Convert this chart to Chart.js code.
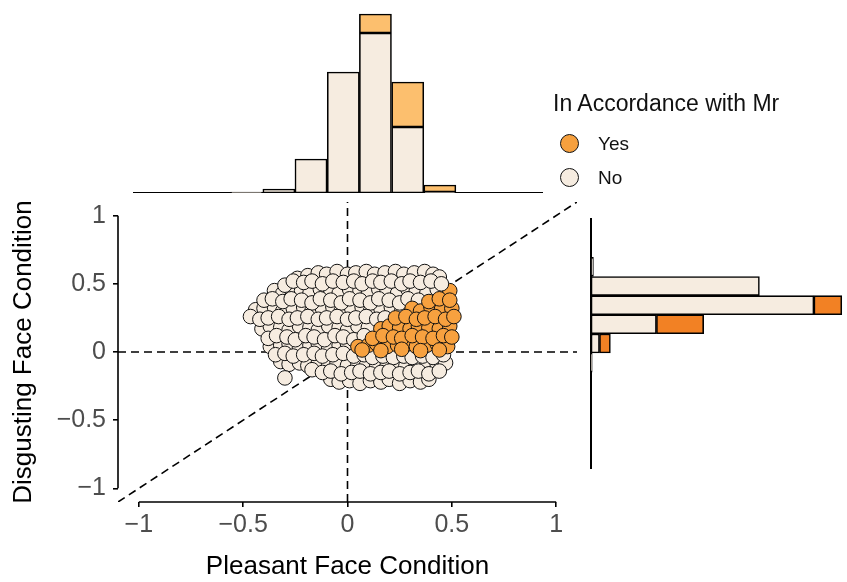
<!DOCTYPE html>
<html><head><meta charset="utf-8">
<script src="https://cdn.jsdelivr.net/npm/chart.js@4"></script>
<style>
html,body{margin:0;padding:0;background:#fff;}
#wrap{position:relative;width:847px;height:582px;overflow:hidden;background:#fff;font-family:"Liberation Sans",Arial,sans-serif;}
#wrap canvas{position:absolute;}
.lg{position:absolute;line-height:1;white-space:nowrap;color:#111;}
.dot{position:absolute;width:19px;height:19px;box-sizing:border-box;border:1.4px solid #111;border-radius:50%;}
</style></head>
<body><div id="wrap">
<canvas id="top" width="600" height="193" style="left:0px;top:0px"></canvas>
<canvas id="right" width="262" height="280" style="left:585px;top:200px"></canvas>
<canvas id="main" width="590" height="412" style="left:0px;top:170px"></canvas>
</div>
<script>
// ---------- data ----------
const xTitle = 'Pleasant Face Condition';
const yTitle = 'Disgusting Face Condition';
const legendTitle = 'In Accordance with Mr';
const seriesNames = ['Yes', 'No'];

const xTickValues = [-1, -0.5, 0, 0.5, 1];
const xTickLabels = ['\u22121', '\u22120.5', '0', '0.5', '1'];
const yTickValues = [-1, -0.5, 0, 0.5, 1];
const yTickLabels = ['\u22121', '\u22120.5', '0', '0.5', '1'];
const axisMin = -1.1, axisMax = 1.1;

// reference lines: x = 0, y = 0, y = x
const refLines = [
  [[0, -1.1], [0, 1.1]],
  [[-1.1, 0], [1.1, 0]],
  [[-1.1, -1.1], [1.1, 1.1]]
];

// "No" points (drawn beneath the "Yes" points)
const noPoints = [
  [-0.24,0.54],[-0.19,0.56],[-0.14,0.58],[-0.10,0.57],[-0.05,0.59],[0.00,0.57],[0.04,0.58],[0.09,0.59],[0.13,0.57],[0.18,0.58],[0.23,0.59],[0.27,0.57],[0.32,0.58],[0.37,0.59],[0.41,0.57],[0.44,0.55],
  [-0.35,0.45],[-0.31,0.43],[-0.27,0.46],[-0.22,0.45],[-0.18,0.43],[-0.13,0.46],[-0.08,0.45],[-0.04,0.43],[0.01,0.46],[0.06,0.45],[0.10,0.43],[0.15,0.46],[0.19,0.45],[0.24,0.43],[0.29,0.46],[0.33,0.45],[0.38,0.43],[0.43,0.46],
  [-0.44,0.31],[-0.40,0.32],[-0.35,0.33],[-0.31,0.30],[-0.26,0.32],[-0.21,0.33],[-0.17,0.30],[-0.12,0.32],[-0.07,0.33],[-0.03,0.30],[0.02,0.32],[0.07,0.33],[0.11,0.30],[0.16,0.32],[0.21,0.33],[0.26,0.30],
  [-0.41,0.17],[-0.37,0.19],[-0.32,0.18],[-0.28,0.16],[-0.23,0.19],[-0.18,0.18],[-0.14,0.16],[-0.09,0.19],[-0.04,0.18],[0.00,0.16],[0.05,0.19],[0.10,0.18],
  [-0.37,0.04],[-0.32,0.05],[-0.28,0.06],[-0.23,0.03],[-0.18,0.05],[-0.14,0.06],[-0.09,0.03],[-0.04,0.05],[0.00,0.06],
  [-0.32,-0.07],[-0.28,-0.09],[-0.23,-0.08],[-0.19,-0.10],[-0.14,-0.08],[-0.09,-0.09],[-0.05,-0.08],[0.00,-0.10],[0.05,-0.09],[0.09,-0.10],[0.14,-0.09],[0.19,-0.10],[0.23,-0.09],[0.28,-0.10],[0.33,-0.09],[0.38,-0.10],[0.43,-0.09],[0.47,-0.08],
  [-0.08,-0.20],[-0.04,-0.22],[0.01,-0.21],[0.06,-0.23],[0.11,-0.21],[0.16,-0.22],[0.20,-0.20],[0.25,-0.23],[0.30,-0.21],[0.35,-0.22],[0.39,-0.20],
  [-0.30,0.49],[-0.26,0.52],[-0.21,0.51],[-0.17,0.52],[-0.12,0.50],[-0.07,0.52],[-0.02,0.51],[0.03,0.52],[0.07,0.50],[0.12,0.52],[0.16,0.51],[0.21,0.52],[0.26,0.50],[0.30,0.52],[0.35,0.51],
  [-0.40,0.38],[-0.36,0.39],[-0.31,0.37],[-0.27,0.39],[-0.22,0.38],[-0.17,0.36],[-0.13,0.39],[-0.08,0.38],[-0.03,0.36],[0.01,0.39],[0.06,0.38],[0.11,0.36],[0.15,0.39],[0.20,0.38],[0.25,0.36],[0.29,0.39],[0.34,0.38],
  [-0.465,0.26],[-0.42,0.24],[-0.38,0.25],[-0.33,0.26],[-0.28,0.24],[-0.24,0.25],[-0.19,0.26],[-0.14,0.24],[-0.10,0.25],[-0.05,0.26],[0.00,0.24],[0.04,0.25],[0.09,0.26],[0.14,0.24],[0.18,0.25],
  [-0.38,0.10],[-0.34,0.12],[-0.29,0.11],[-0.25,0.09],[-0.20,0.12],[-0.16,0.11],[-0.11,0.09],[-0.06,0.12],[-0.02,0.11],[0.03,0.09],[0.08,0.12],
  [-0.345,-0.02],[-0.30,-0.01],[-0.26,-0.03],[-0.21,-0.02],[-0.16,-0.01],[-0.12,-0.03],[-0.07,-0.02],[-0.02,-0.01],[0.03,-0.03],[0.08,-0.02],[0.12,-0.04],[0.17,-0.03],[0.22,-0.04],[0.27,-0.03],[0.31,-0.04],[0.36,-0.03],[0.41,-0.04],[0.46,-0.02],
  [-0.30,-0.19],[-0.17,-0.13],[-0.12,-0.15],[-0.08,-0.14],[-0.03,-0.16],[0.02,-0.15],[0.06,-0.14],[0.11,-0.16],[0.16,-0.15],[0.20,-0.14],[0.25,-0.16],[0.30,-0.15],[0.34,-0.14],[0.39,-0.16],[0.44,-0.14]
];
// "No" points drawn above the "Yes" points
const noFrontPoints = [[0.40,0.52],[0.45,0.50]];
// "Yes" points
const yesPoints = [
  [0.49,0.45],
  [0.31,0.32],[0.35,0.30],[0.40,0.33],[0.45,0.31],[0.50,0.32],
  [0.16,0.17],[0.20,0.19],[0.25,0.18],[0.30,0.17],[0.34,0.19],[0.39,0.18],[0.44,0.17],[0.49,0.19],
  [0.05,0.04],[0.10,0.05],[0.14,0.06],[0.19,0.04],[0.24,0.05],[0.29,0.06],[0.33,0.04],[0.38,0.05],[0.43,0.06],[0.48,0.04],
  [0.39,0.37],[0.44,0.39],[0.49,0.38],
  [0.23,0.25],[0.28,0.26],[0.33,0.24],[0.37,0.25],[0.42,0.26],[0.47,0.24],[0.51,0.26],
  [0.12,0.10],[0.17,0.12],[0.22,0.11],[0.26,0.10],[0.31,0.12],[0.36,0.11],[0.41,0.10],[0.46,0.12],[0.50,0.11],
  [0.07,0.015],[0.16,0.01],[0.26,0.02],[0.35,0.01],[0.44,0.015]
];

// top marginal histogram (Pleasant)
const topBinCenters = [-0.945,-0.790,-0.636,-0.482,-0.327,-0.173,-0.018,0.136,0.291,0.445,0.599,0.754,0.908];
const topNo  = [0,0,0,1,4,34,121,160,66,1,0,0,0];
const topYes = [0,0,0,0,0,0,0,19,45,7,0,0,0];
const topXMin = -1.022, topXMax = 0.935, topCountMax = 180;

// right marginal histogram (Disgusting)
const rightBinCenters = [-0.778,-0.637,-0.496,-0.355,-0.214,-0.073,0.068,0.209,0.349,0.490,0.631,0.772,0.913];
const rightNo  = [0,0,0,0,0,1,7,54,184,139,2,0,0];
const rightYes = [0,0,0,0,0,0,9,39,23,0,0,0,0];
const rightYMin = -0.848, rightYMax = 0.983, rightCountMax = 208;

// ---------- styles ----------
const noFill = '#F6ECE0';
const yesFill = '#F7A13F';
const topYesFill = '#FCBF6E';
const rightYesFill = '#F28124';
const legendYesFill = '#F6A03E';

Chart.defaults.font.family = '"Liberation Sans", Arial, sans-serif';
Chart.defaults.animation = false;

const toXY = arr => arr.map(p => ({x: p[0], y: p[1]}));

const cappedAxes = {
  id: 'cappedAxes',
  afterDraw(chart) {
    const {ctx, chartArea, scales: {x, y}} = chart;
    ctx.save();
    ctx.strokeStyle = '#000';
    ctx.lineWidth = 1.6;
    ctx.beginPath();
    ctx.moveTo(x.getPixelForValue(xTickValues[0]), chartArea.bottom);
    ctx.lineTo(x.getPixelForValue(xTickValues[xTickValues.length - 1]), chartArea.bottom);
    ctx.moveTo(chartArea.left, y.getPixelForValue(yTickValues[0]));
    ctx.lineTo(chartArea.left, y.getPixelForValue(yTickValues[yTickValues.length - 1]));
    ctx.stroke();
    ctx.restore();
  }
};

const pointStyle = (fill) => ({
  pointRadius: 7.3, pointHoverRadius: 7.3,
  backgroundColor: fill, borderColor: '#111', borderWidth: 1
});

const mainDatasets = refLines.map(l => ({
  data: toXY(l), showLine: true, pointRadius: 0, borderColor: '#000',
  borderWidth: 1.6, borderDash: [8, 5], order: 10
}));
mainDatasets.push(Object.assign({data: toXY(noPoints), order: 3}, pointStyle(noFill)));
mainDatasets.push(Object.assign({data: toXY(yesPoints), order: 2}, pointStyle(yesFill)));
mainDatasets.push(Object.assign({data: toXY(noFrontPoints), order: 1}, pointStyle(noFill)));

new Chart(document.getElementById('main'), {
  type: 'scatter',
  data: {datasets: mainDatasets},
  options: {
    responsive: false, devicePixelRatio: 1,
    layout: {padding: {top: 32, right: 13, left: 0, bottom: 0}},
    plugins: {legend: {display: false}, tooltip: {enabled: false}},
    scales: {
      x: {
        type: 'linear', min: axisMin, max: axisMax,
        afterBuildTicks: s => { s.ticks = xTickValues.map(v => ({value: v})); },
        afterFit: s => { s.height = 80; },
        ticks: {callback: (v, i) => xTickLabels[i], autoSkip: false, maxRotation: 0, minRotation: 0,
                font: {size: 25}, color: '#4D4D4D', padding: 3},
        grid: {drawOnChartArea: false, drawTicks: true, tickLength: 5, color: '#000', lineWidth: 1.6},
        border: {display: false},
        title: {display: true, text: xTitle, font: {size: 26}, color: '#000', padding: {top: 0, bottom: 0}}
      },
      y: {
        type: 'linear', min: axisMin, max: axisMax,
        afterBuildTicks: s => { s.ticks = yTickValues.map(v => ({value: v})); },
        afterFit: s => { s.width = 118; },
        ticks: {callback: (v, i) => yTickLabels[i], autoSkip: false,
                font: {size: 25}, color: '#4D4D4D', padding: 7},
        grid: {drawOnChartArea: false, drawTicks: true, tickLength: 5, color: '#000', lineWidth: 1.6},
        border: {display: false},
        title: {display: true, text: yTitle, font: {size: 26}, color: '#000', padding: {top: 8, bottom: 0}}
      }
    }
  },
  plugins: [cappedAxes]
});

const barStyle = (fill) => ({
  backgroundColor: fill, borderColor: '#000', borderWidth: 1.6, borderSkipped: false,
  barPercentage: 1, categoryPercentage: 1
});

// top histogram
new Chart(document.getElementById('top'), {
  type: 'bar',
  data: {datasets: [
    Object.assign({label: seriesNames[1], data: topBinCenters.map((c, i) => ({x: c, y: topNo[i]}))}, barStyle(noFill)),
    Object.assign({label: seriesNames[0], data: topBinCenters.map((c, i) => ({x: c, y: topYes[i]}))}, barStyle(topYesFill))
  ]},
  options: {
    responsive: false, devicePixelRatio: 1,
    layout: {padding: {left: 134, right: 58, top: 13, bottom: 0}},
    plugins: {legend: {display: false}, tooltip: {enabled: false}},
    scales: {
      x: {type: 'linear', min: topXMin, max: topXMax, offset: false, stacked: true,
          ticks: {display: false, stepSize: 1}, grid: {display: false, drawTicks: false},
          border: {display: true, color: '#000', width: 2},
          afterFit: s => { s.height = 0; }},
      y: {type: 'linear', min: 0, max: topCountMax, stacked: true, display: false}
    }
  }
});

// right histogram
new Chart(document.getElementById('right'), {
  type: 'bar',
  data: {datasets: [
    Object.assign({label: seriesNames[1], data: rightBinCenters.map((c, i) => ({y: c, x: rightNo[i]}))}, barStyle(noFill)),
    Object.assign({label: seriesNames[0], data: rightBinCenters.map((c, i) => ({y: c, x: rightYes[i]}))}, barStyle(rightYesFill))
  ]},
  options: {
    indexAxis: 'y',
    responsive: false, devicePixelRatio: 1,
    layout: {padding: {left: 6, right: 4, top: 19, bottom: 12}},
    plugins: {legend: {display: false}, tooltip: {enabled: false}},
    scales: {
      y: {type: 'linear', position: 'left', min: rightYMin, max: rightYMax, offset: false, stacked: true,
          ticks: {display: false, stepSize: 1}, grid: {display: false, drawTicks: false},
          border: {display: true, color: '#000', width: 2},
          afterFit: s => { s.width = 0; }},
      x: {type: 'linear', min: 0, max: rightCountMax, stacked: true, display: false}
    }
  }
});

// legend (HTML text)
const wrap = document.getElementById('wrap');
function addEl(cls, style, text) {
  const d = document.createElement('div');
  d.className = cls;
  Object.assign(d.style, style);
  if (text) d.textContent = text;
  wrap.appendChild(d);
}
addEl('lg', {left: '553px', top: '92px', fontSize: '23px'}, legendTitle);
addEl('dot', {left: '559.5px', top: '133.5px', background: legendYesFill});
addEl('lg', {left: '598px', top: '134px', fontSize: '19px'}, seriesNames[0]);
addEl('dot', {left: '559.5px', top: '167.5px', background: noFill});
addEl('lg', {left: '598px', top: '168px', fontSize: '19px'}, seriesNames[1]);
</script>
</body></html>
